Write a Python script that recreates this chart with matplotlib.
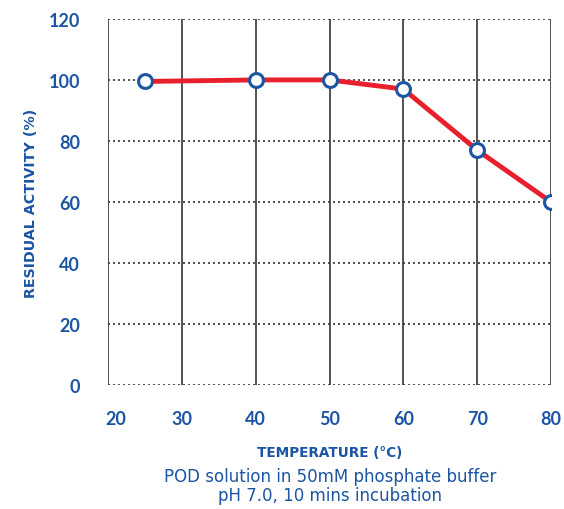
import matplotlib.pyplot as plt
import matplotlib.transforms as mtransforms

# data
temperature = [25, 40, 50, 60, 70, 80]
activity = [99.5, 100, 100, 97, 77, 60]
x_ticks = [20, 30, 40, 50, 60, 70, 80]
y_ticks = [0, 20, 40, 60, 80, 100, 120]

blue = '#1b55a3'
red = '#e8202d'

plt.rcParams['font.family'] = ['Lato', 'DejaVu Sans']

fig = plt.figure(figsize=(5.64, 5.10), dpi=100)
ax = fig.add_axes([0.1915, 0.243, 0.7855, 0.718])

ax.set_xlim(20, 80)
ax.set_ylim(0, 120)

# grid: solid verticals, dotted horizontals
for xv in x_ticks:
    ax.axvline(xv, color='#444444', lw=1.3, zorder=1)
for yv in y_ticks:
    ax.axhline(yv, color='#333333', lw=1.2, ls=(0, (1.2, 1.8)), zorder=1)

for s in ax.spines.values():
    s.set_visible(False)

ax.plot(temperature, activity, color=red, lw=3.5, zorder=3,
        marker='o', ms=10, mfc='white', mec=blue, mew=2.2)

ax.set_xticks(x_ticks)
ax.set_yticks(y_ticks)
ax.tick_params(length=0, labelsize=13, labelcolor=blue)
ax.tick_params(axis='x', pad=18)
ax.tick_params(axis='y', pad=20)
for lab in ax.get_xticklabels() + ax.get_yticklabels():
    lab.set_fontweight('bold')
# first x label sits a bit right of its gridline in the original
first = ax.get_xticklabels()[0]
first.set_transform(first.get_transform() +
                    mtransforms.ScaledTranslation(8 / 100, 0, fig.dpi_scale_trans))

ax.set_ylabel('RESIDUAL ACTIVITY (%)', color=blue, fontsize=10.3,
              fontweight='bold', family='DejaVu Sans')
ax.yaxis.set_label_coords(-0.157, 0.5)

fig.text(0.585, (510 - 453) / 510, 'TEMPERATURE (°C)', color=blue, fontsize=9.8,
         fontweight='bold', family='DejaVu Sans', ha='center', va='center')
fig.text(0.585, (510 - 477) / 510, 'POD solution in 50mM phosphate buffer',
         color=blue, fontsize=12, family='DejaVu Sans', ha='center', va='center')
fig.text(0.585, (510 - 496) / 510, 'pH 7.0, 10 mins incubation',
         color=blue, fontsize=12, family='DejaVu Sans', ha='center', va='center')

fig.savefig('out.png', dpi=100)
